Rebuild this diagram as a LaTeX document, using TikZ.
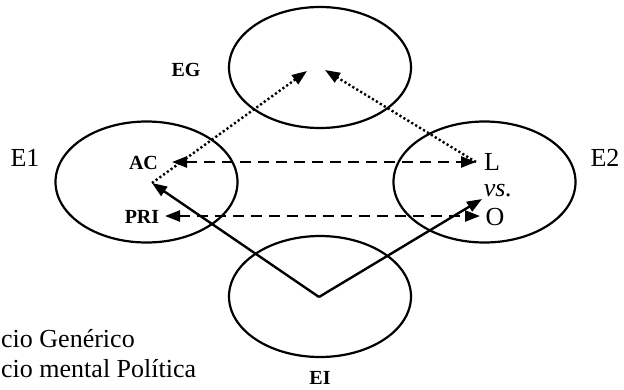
\documentclass[tikz,border=0pt]{standalone}
\usepackage{fontspec}
\setmainfont{Liberation Serif}
\usetikzlibrary{shapes.geometric,arrows.meta}
\tikzset{
  space/.style={draw, ellipse, line width=2.2pt, minimum width=182pt, minimum height=121pt, inner sep=0pt},
  big/.style={font=\fontsize{26}{30}\selectfont, inner sep=0pt},
  small/.style={font=\fontsize{20}{24}\selectfont\bfseries, inner sep=0pt},
  tipend/.style={-{Triangle[length=15pt,width=11pt]}},
  dtipend/.style={{Triangle[length=15pt,width=11pt]}-{Triangle[length=15pt,width=11pt]}},
  dotline/.style={line width=2.4pt, dash pattern=on 2.2pt off 2.4pt},
  dashline/.style={line width=2.4pt, dash pattern=on 11pt off 7pt},
  solidline/.style={line width=2.4pt},
}
\begin{document}
\begin{tikzpicture}[x=1pt,y=-1pt]
\useasboundingbox (0,0) rectangle (624,389);
% spaces
\node[space] (EGs) at (320,67.5) {};
\node[space] (E1s) at (146.5,182) {};
\node[space] (E2s) at (484.5,182) {};
\node[space] (EIs) at (320,296.5) {};
% labels
\node[small] (EG) at (186,70) {EG};
\node[big] (E1) at (25,158) {E1};
\node[big] (E2) at (605,158) {E2};
\node[small] (AC) at (143.5,163) {AC};
\node[small] (PRI) at (142,217) {PRI};
\node[big] (L) at (492,162) {L};
\node[big] (vs) at (498,191) {\itshape vs.};
\node[big] (O) at (495,217) {O};
\node[small] (EI) at (320,378) {EI};
\node[big, anchor=base west] (leg1) at (1,347) {cio Genérico};
\node[big, anchor=base west] (leg2) at (1,377) {cio mental Política};
% connector points
\coordinate (ACt) at (172,162);
\coordinate (Lt) at (476,162);
\coordinate (PRIt) at (165,216);
\coordinate (Ot) at (480,216);
\coordinate (AClow) at (152,183);
\coordinate (EIv) at (319,297);
\coordinate (Otip) at (482,199);
\coordinate (EGl) at (307,71);
\coordinate (EGr) at (325,70);
% dotted
\draw[dotline, tipend] (AClow) -- (EGl);
\draw[dotline, tipend] (Lt) -- (EGr);
% dashed
\draw[dashline, dtipend] (ACt) -- (Lt);
\draw[dashline, dtipend] (PRIt) -- (Ot);
% solid
\draw[solidline, tipend] (EIv) -- (AClow);
\draw[solidline, tipend] (EIv) -- (Otip);
\end{tikzpicture}
\end{document}
